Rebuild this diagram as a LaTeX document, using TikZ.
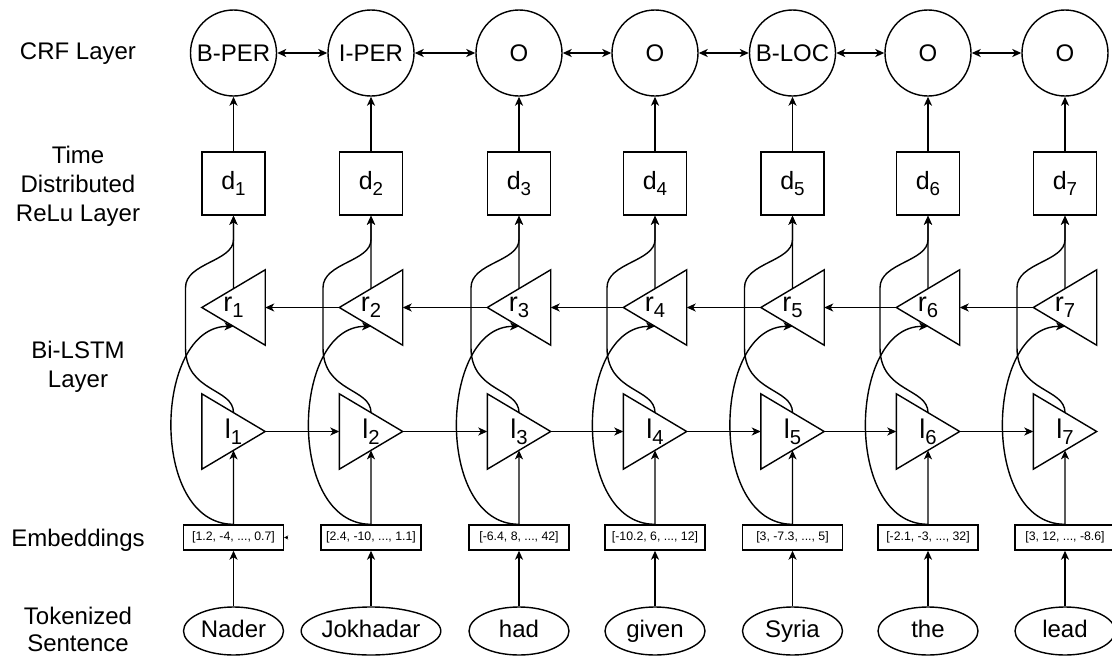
\documentclass[tikz,border=0pt]{standalone}
\usepackage{fontspec}
\setmainfont{Liberation Sans}
\usetikzlibrary{arrows.meta,calc,shapes.geometric}
\newcommand{\lowsub}[1]{\raisebox{-0.22em}{\scalebox{0.75}{#1}}}
\begin{document}
\begin{tikzpicture}[x=1pt,y=-1pt,
  line width=1.4pt,
  arr/.style={-{Stealth[length=9pt,width=8pt,inset=2.5pt]}},
  darr/.style={{Stealth[length=9pt,width=8pt,inset=2.5pt]}-{Stealth[length=9pt,width=8pt,inset=2.5pt]}},
  crf/.style={circle,draw,minimum size=86pt,inner sep=0pt,font=\fontsize{24}{28}\selectfont},
  dbox/.style={rectangle,draw,minimum size=63pt,inner sep=0pt,font=\fontsize{25}{28}\selectfont},
  tri/.style={rectangle,minimum width=62pt,minimum height=74pt,inner sep=0pt,font=\fontsize{27}{30}\selectfont},
  emb/.style={rectangle,draw,minimum width=100pt,minimum height=25pt,inner sep=0pt,font=\fontsize{12.3}{14}\selectfont},
  tok/.style={ellipse,draw,minimum width=100pt,minimum height=48pt,inner sep=0pt,text height=17pt,text depth=5pt,font=\fontsize{24}{27}\selectfont},
  side/.style={align=center,font=\fontsize{24}{29}\selectfont}
]
\useasboundingbox (0,0) rectangle (1112,656);

% side labels
\node[side] (lcrf) at (78,54) {CRF Layer};
\node[side] (ltime) at (78,186) {Time\\Distributed\\ReLu Layer};
\node[side] (lbi) at (78,367) {Bi-LSTM\\Layer};
\node[side] (lemb) at (78,540) {Embeddings};
\node[side,font=\fontsize{24}{27}\selectfont] (ltok) at (78,629) {Tokenized\\Sentence};

% CRF layer
\node[crf] (c1) at (233.5,53) {B-PER};
\node[crf] (c2) at (371,53) {I-PER};
\node[crf] (c3) at (519,53) {O};
\node[crf] (c4) at (655,53) {O};
\node[crf] (c5) at (792.5,53) {B-LOC};
\node[crf] (c6) at (928,53) {O};
\node[crf] (c7) at (1065,53) {O};

% dense layer
\node[dbox] (d1) at (233.5,183.5) {d\lowsub{1}};
\node[dbox] (d2) at (371,183.5) {d\lowsub{2}};
\node[dbox] (d3) at (519,183.5) {d\lowsub{3}};
\node[dbox] (d4) at (655,183.5) {d\lowsub{4}};
\node[dbox] (d5) at (792.5,183.5) {d\lowsub{5}};
\node[dbox] (d6) at (928,183.5) {d\lowsub{6}};
\node[dbox] (d7) at (1065,183.5) {d\lowsub{7}};

% backward LSTM
\node[tri] (r1) at (233.5,307.5) {r\lowsub{1}};
\node[tri] (r2) at (371,307.5) {r\lowsub{2}};
\node[tri] (r3) at (519,307.5) {r\lowsub{3}};
\node[tri] (r4) at (655,307.5) {r\lowsub{4}};
\node[tri] (r5) at (792.5,307.5) {r\lowsub{5}};
\node[tri] (r6) at (928,307.5) {r\lowsub{6}};
\node[tri] (r7) at (1065,307.5) {r\lowsub{7}};

% forward LSTM
\node[tri] (l1) at (233.5,431.5) {l\lowsub{1}};
\node[tri] (l2) at (371,431.5) {l\lowsub{2}};
\node[tri] (l3) at (519,431.5) {l\lowsub{3}};
\node[tri] (l4) at (655,431.5) {l\lowsub{4}};
\node[tri] (l5) at (792.5,431.5) {l\lowsub{5}};
\node[tri] (l6) at (928,431.5) {l\lowsub{6}};
\node[tri] (l7) at (1065,431.5) {l\lowsub{7}};

% embeddings
\node[emb] (e1) at (233.5,537.5) {[1.2, -4, ..., 0.7]};
\node[emb] (e2) at (371,537.5) {[2.4, -10, ..., 1.1]};
\node[emb] (e3) at (519,537.5) {[-6.4, 8, ..., 42]};
\node[emb] (e4) at (655,537.5) {[-10.2, 6, ..., 12]};
\node[emb] (e5) at (792.5,537.5) {[3, -7.3, ..., 5]};
\node[emb] (e6) at (928,537.5) {[-2.1, -3, ..., 32]};
\node[emb] (e7) at (1065,537.5) {[3, 12, ..., -8.6]};

% tokens
\node[tok] (t1) at (233.5,631) {Nader};
\node[tok] (t2) at (371,631) {Jokhadar};
\node[tok] (t3) at (519,631) {had};
\node[tok] (t4) at (655,631) {given};
\node[tok] (t5) at (792.5,631) {Syria};
\node[tok] (t6) at (928,631) {the};
\node[tok] (t7) at (1065,631) {lead};

\foreach \i in {1,...,7}{
  % triangle outlines
  \draw[line join=miter] (r\i.west) -- (r\i.north east) -- (r\i.south east) -- cycle;
  \draw[line join=miter] (l\i.north west) -- (l\i.east) -- (l\i.south west) -- cycle;
  % vertical connectors
  \draw[arr] (t\i) -- (e\i);
  \draw[arr] (e\i.north) -- ($(l\i.south west)!0.5!(l\i.east)$);
  \draw[arr] ($(r\i.west)!0.5!(r\i.north east)$) -- (d\i.south);
  \draw[arr] (d\i) -- (c\i);
  % embedding to backward LSTM (curved)
  \draw[arr] (e\i.north) .. controls +(-85,0) and +(-80,0) .. ($(r\i.west)!0.5!(r\i.south east)$);
  % forward LSTM to dense (curved around)
  \draw[arr] ($(l\i.north west)!0.5!(l\i.east)$)
     .. controls +(0,-25) and +(0,45) .. ++(-48,-65)
     -- ++(0,-60)
     .. controls +(0,-25) and +(0,22) .. ++(48,-48)
     -- (d\i.south);
}

\foreach \i/\j in {1/2,2/3,3/4,4/5,5/6,6/7}{
  \draw[darr] (c\i) -- (c\j);
  \draw[arr] (l\i.east) -- (l\j.west);
  \draw[arr] (r\j.west) -- (r\i.east);
}

% small stray arrowhead at first embedding box
\draw[-{Stealth[length=4pt,width=4pt]}, line width=0.6pt] ($(e1.east)+(4,0)$) -- (e1.east);
\end{tikzpicture}
\end{document}
